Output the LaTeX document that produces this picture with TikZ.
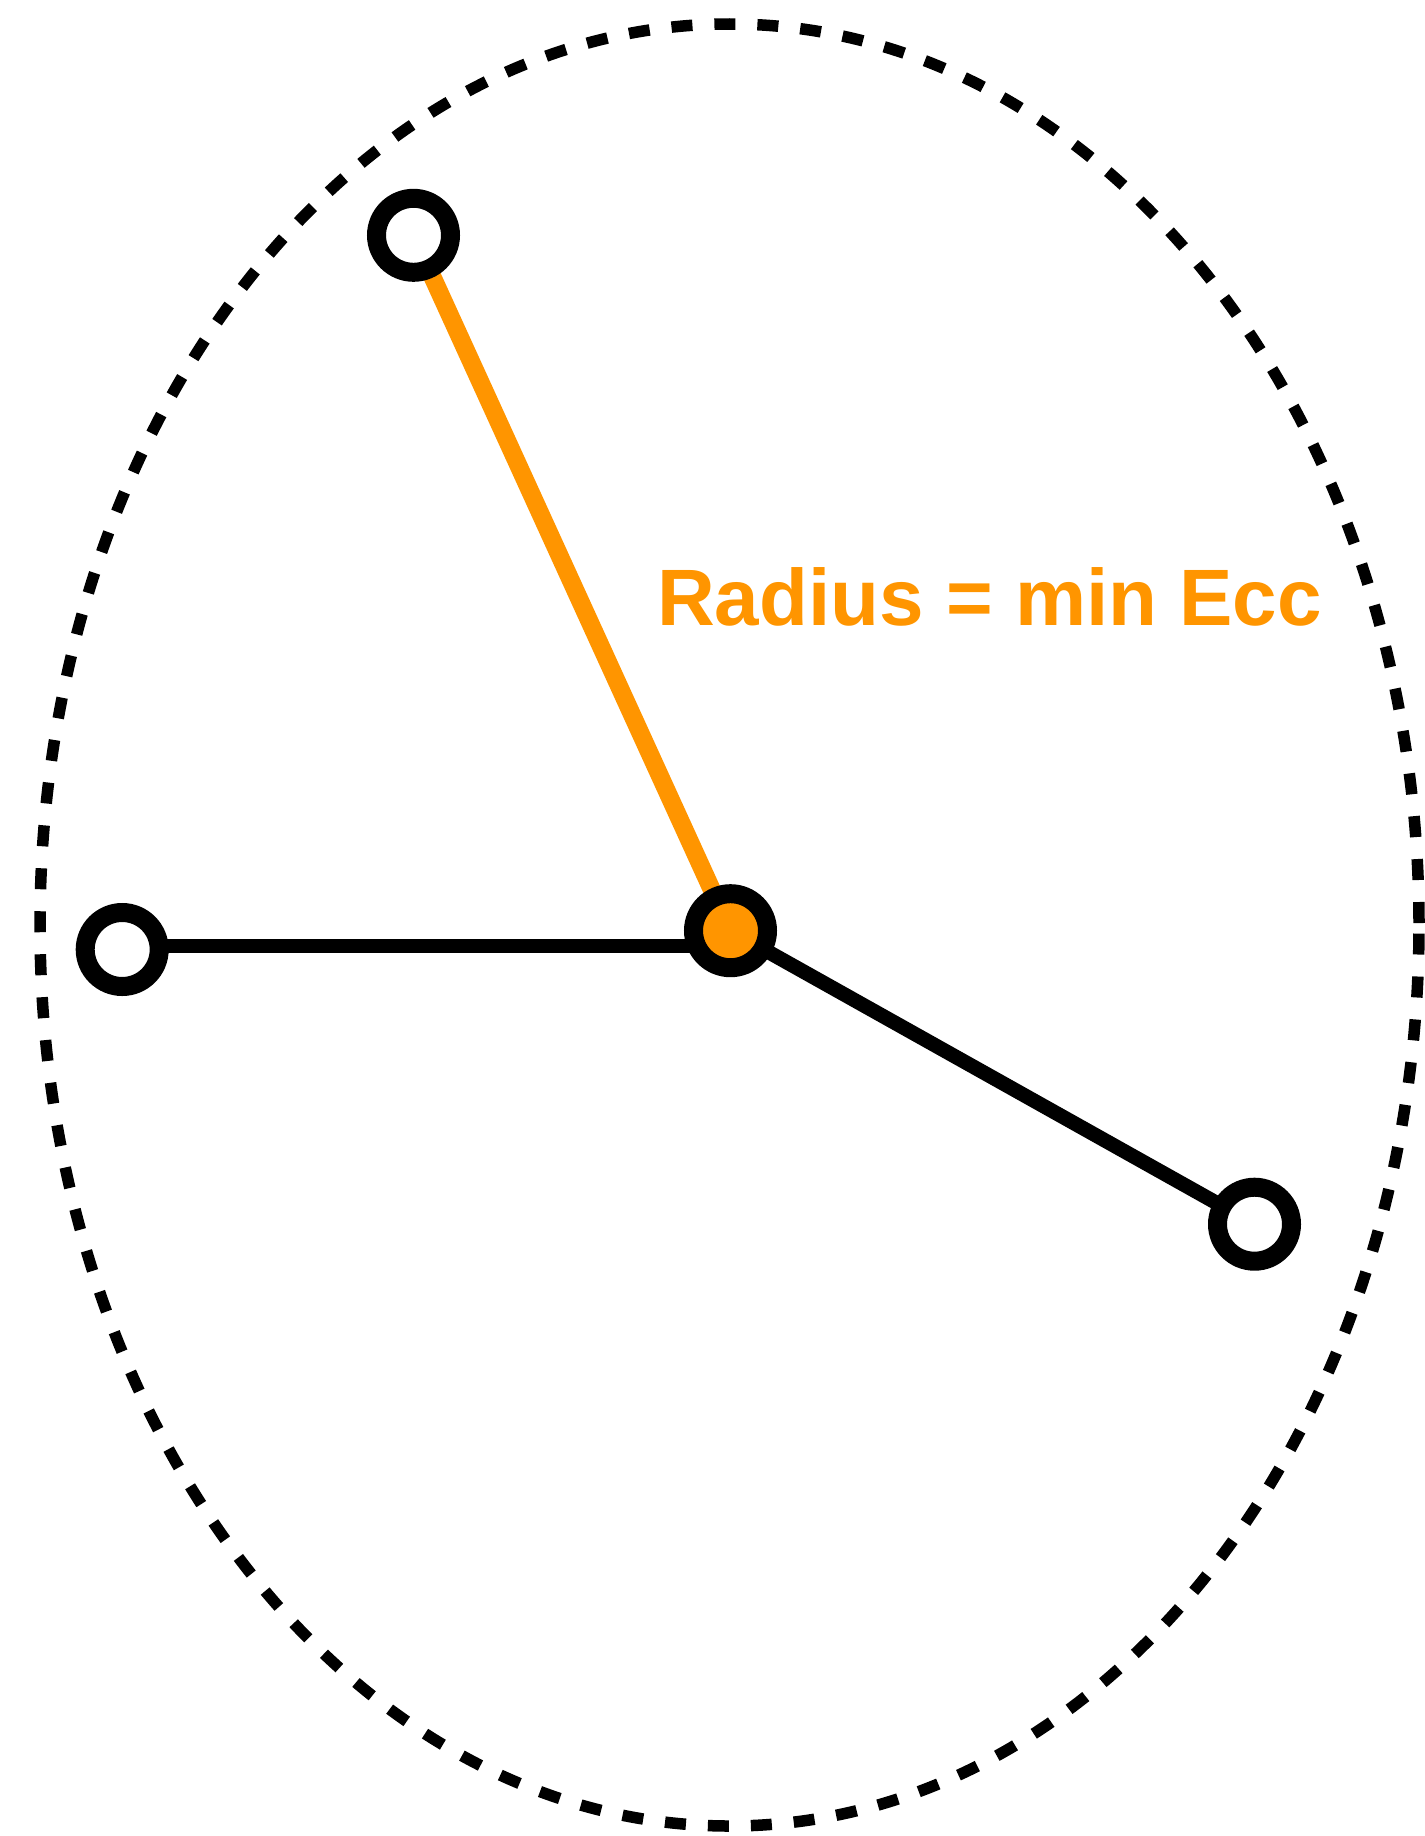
\documentclass[tikz,border=0pt]{standalone}
\usepackage{fontspec}
\setmainfont{Liberation Sans}
\definecolor{appleorange}{RGB}{255,149,0}
\begin{document}
\begin{tikzpicture}[x=1pt,y=-1pt,
  vertex/.style={circle, draw=black, line width=19pt, minimum size=74pt, inner sep=0pt, outer sep=0pt, fill=white},
  center vertex/.style={vertex, fill=appleorange},
  edge black/.style={draw=black, line width=14.5pt},
  edge orange/.style={draw=appleorange, line width=18pt},
  bound/.style={draw=black, line width=11.5pt, dash pattern=on 21pt off 22pt, dash phase=41pt}]
\useasboundingbox (0,0) rectangle (1424,1836);
\coordinate (ec) at (729.5,925);
\draw[bound] (ec) ellipse [x radius=689.5pt, y radius=901pt];
\coordinate (pa) at (413.5,235.3);
\coordinate (pc) at (730.5,930.7);
\coordinate (pl) at (122.2,946);
\coordinate (pr) at (1254.5,1224.2);
\draw[edge orange] (pa) -- (pc);
\draw[edge black] (pl) -- (pl -| pc);
\draw[edge black] (pc) -- (pr);
\node[vertex] (a) at (pa) {};
\node[vertex] (l) at (122.2,949.5) {};
\node[vertex] (r) at (pr) {};
\node[center vertex] (c) at (pc) {};
\node[anchor=base west, inner sep=0pt, text=appleorange, font=\fontsize{80}{90}\selectfont\bfseries] (lab) at (657,625) {Radius = min Ecc};
\end{tikzpicture}
\end{document}
